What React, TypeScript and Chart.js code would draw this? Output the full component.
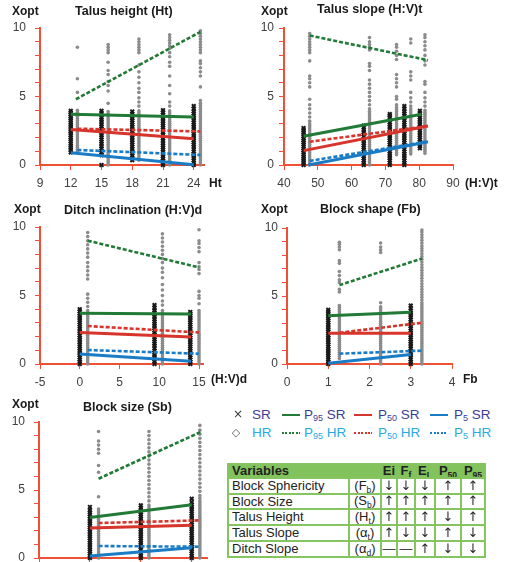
import React, { useEffect, useRef } from 'react';
import { Chart, registerables } from 'chart.js';

Chart.register(...registerables);

const AXIS = '#ef4f32';
const GREEN = '#217a36';
const RED = '#d7342b';
const BLUE = '#1b7cc6';
const BLACK = '#1a1a1a';
const GRAY = '#8b8b8b';
const TICK_COLOR = '#404040';
const FONT = '"Liberation Sans", Arial, sans-serif';
const GLYPH_FONT = '"DejaVu Sans", "Liberation Sans", sans-serif';

type XY = [number, number];

const Y_TICKS = [0, 1, 2, 3, 4, 5, 6, 7, 8, 9, 10];

// ---------------- Talus height (Ht) ----------------
const HT_X_TICKS = [9, 12, 15, 18, 21, 24];
const HT_SR_X = [12, 15, 18, 21, 24];
const HT_SR_12 = [0.92, 1.1, 1.25, 1.4, 1.55, 1.72, 1.86, 2.0, 2.18, 2.32, 2.47, 2.62, 2.78, 2.93, 3.08, 3.24, 3.38, 3.53, 3.68, 3.82, 3.95];
const HT_SR_15 = [0, 0.72, 0.9, 1.05, 1.22, 1.38, 1.55, 1.7, 1.86, 2.02, 2.18, 2.34, 2.5, 2.66, 2.82, 2.98, 3.14, 3.3, 3.46, 3.62, 3.78, 3.95];
const HT_SR_18 = [0.35, 0.5, 0.68, 0.85, 1.0, 1.18, 1.34, 1.5, 1.66, 1.82, 1.98, 2.14, 2.3, 2.46, 2.62, 2.78, 2.94, 3.1, 3.26, 3.42, 3.58, 3.74, 3.9];
const HT_SR_21 = [0, 0.15, 0.32, 0.48, 0.64, 0.8, 0.96, 1.12, 1.28, 1.44, 1.6, 1.76, 1.92, 2.08, 2.24, 2.4, 2.56, 2.72, 2.88, 3.04, 3.2, 3.36, 3.52, 3.68, 3.84, 4.0];
const HT_SR_24 = [0, 0.16, 0.33, 0.5, 0.66, 0.82, 0.98, 1.15, 1.32, 1.48, 1.64, 1.8, 1.96, 2.12, 2.28, 2.45, 2.62, 2.78, 2.94, 3.1, 3.27, 3.44, 3.6, 3.76, 3.92, 4.1, 4.3];
const HT_HR_X = [12.65, 15.65, 18.65, 21.65, 24.65];
const HT_HR_12 = [1.0, 1.15, 1.3, 1.45, 1.6, 1.75, 1.9, 2.05, 2.2, 2.35, 2.5, 2.65, 2.8, 2.95, 3.1, 3.25, 3.4, 3.55, 3.7, 3.85, 4.0, 5.3, 6.3, 8.6];
const HT_HR_15 = [0, 0.15, 0.3, 0.45, 0.6, 0.75, 0.9, 1.05, 1.2, 1.35, 1.5, 1.65, 1.8, 1.95, 2.1, 2.25, 2.4, 2.55, 2.7, 2.85, 3.0, 3.15, 3.3, 3.45, 3.6, 3.75, 3.9, 4.5, 5.4, 5.8, 6.1, 6.6, 6.9, 7.5, 8.2, 8.4, 8.6, 8.8];
const HT_HR_18 = [0.35, 0.5, 0.65, 0.8, 0.95, 1.1, 1.25, 1.4, 1.55, 1.7, 1.85, 2.0, 2.15, 2.3, 2.45, 2.6, 2.75, 2.9, 3.05, 3.2, 3.35, 3.5, 3.65, 3.8, 3.95, 4.3, 4.6, 4.9, 5.3, 5.6, 6.0, 6.4, 6.8, 7.3, 8.2, 8.4, 8.6, 8.8, 9.0, 9.2];
const HT_HR_21 = [0, 0.2, 0.35, 0.5, 0.65, 0.8, 0.95, 1.1, 1.25, 1.4, 1.55, 1.7, 1.85, 2.0, 2.15, 2.3, 2.45, 2.6, 2.75, 2.9, 3.05, 3.2, 3.35, 3.5, 3.65, 3.8, 3.95, 4.3, 4.6, 5.2, 5.8, 6.5, 7.2, 7.5, 7.9, 8.2, 8.5, 8.7, 8.9, 9.1, 9.3, 9.5];
const HT_HR_24 = [0, 0.15, 0.3, 0.45, 0.6, 0.75, 0.9, 1.05, 1.2, 1.35, 1.5, 1.65, 1.8, 1.95, 2.1, 2.25, 2.4, 2.55, 2.7, 2.85, 3.0, 3.15, 3.3, 3.45, 3.6, 3.75, 3.9, 4.05, 4.2, 4.35, 4.5, 4.7, 5.7, 6.5, 6.8, 7.1, 7.4, 7.6, 8.2, 8.4, 8.6, 8.8, 9.0, 9.2, 9.4, 9.6, 9.8];
const HT_P95_SR: XY[] = [[12, 3.7], [24, 3.5]];
const HT_P95_HR: XY[] = [[12.5, 4.8], [24.65, 9.72]];
const HT_P50_SR: XY[] = [[12, 2.6], [24, 1.92]];
const HT_P50_HR: XY[] = [[12.65, 2.65], [24.65, 2.45]];
const HT_P5_SR: XY[] = [[12, 0.9], [24, 0.02]];
const HT_P5_HR: XY[] = [[12.65, 1.1], [24.65, 0.73]];

// ---------------- Talus slope (H:V)t ----------------
const TS_X_TICKS = [40, 50, 60, 70, 80, 90];
const TS_SR_X = [45.8, 63.6, 71.3, 75.6, 80.2];
const TS_SR_1 = [0, 0.15, 0.3, 0.45, 0.6, 0.75, 0.9, 1.05, 1.2, 1.35, 1.5, 1.65, 1.8, 1.95, 2.1, 2.25, 2.4, 2.55, 2.7];
const TS_SR_2 = [0, 0.16, 0.32, 0.48, 0.64, 0.8, 0.96, 1.12, 1.28, 1.44, 1.6, 1.76, 1.92, 2.08, 2.24, 2.4, 2.56, 2.72, 2.88];
const TS_SR_3 = [0, 0.17, 0.34, 0.5, 0.66, 0.82, 0.98, 1.15, 1.32, 1.48, 1.64, 1.8, 1.96, 2.12, 2.28, 2.45, 2.62, 2.78, 2.94, 3.1, 3.27, 3.44, 3.6, 3.72];
const TS_SR_4 = [0, 0.16, 0.33, 0.5, 0.66, 0.82, 0.98, 1.15, 1.32, 1.48, 1.64, 1.8, 1.96, 2.12, 2.28, 2.45, 2.62, 2.78, 2.94, 3.1, 3.27, 3.44, 3.6, 3.76, 3.92, 4.1, 4.3];
const TS_SR_5 = [1.22, 1.38, 1.54, 1.7, 1.86, 2.02, 2.18, 2.34, 2.5, 2.66, 2.82, 2.98, 3.14, 3.3, 3.46, 3.62, 3.78, 3.95];
const TS_HR_X = [47.6, 65.3, 73.3, 77.5, 81.7];
const TS_HR_1 = [0, 0.15, 0.3, 0.45, 0.6, 0.75, 0.9, 1.05, 1.2, 1.35, 1.5, 1.65, 1.8, 1.95, 2.1, 2.25, 2.4, 2.55, 2.7, 2.85, 3.0, 3.2, 3.5, 3.8, 4.1, 4.4, 4.8, 5.7, 6.0, 6.3, 6.5, 7.6, 8.2, 8.4, 8.6, 8.8, 9.0, 9.2, 9.4, 9.6];
const TS_HR_2 = [0, 0.15, 0.3, 0.45, 0.6, 0.75, 0.9, 1.05, 1.2, 1.35, 1.5, 1.65, 1.8, 1.95, 2.1, 2.25, 2.4, 2.55, 2.7, 2.85, 3.0, 3.15, 3.3, 3.45, 3.6, 3.75, 3.9, 4.1, 4.4, 4.7, 5.0, 5.3, 5.6, 5.9, 6.2, 6.9, 7.2, 7.4, 8.4, 8.6, 8.8, 9.0, 9.3];
const TS_HR_3 = [0.75, 0.9, 1.05, 1.2, 1.35, 1.5, 1.65, 1.8, 1.95, 2.1, 2.25, 2.4, 2.55, 2.7, 2.85, 3.0, 3.15, 3.3, 3.45, 3.6, 3.75, 3.9, 4.05, 4.2, 4.4, 4.8, 5.0, 5.7, 6.0, 6.3, 6.6, 7.7, 8.0, 8.3, 8.6, 8.8];
const TS_HR_4 = [0.8, 0.95, 1.1, 1.25, 1.4, 1.55, 1.7, 1.85, 2.0, 2.15, 2.3, 2.45, 2.6, 2.75, 2.9, 3.05, 3.2, 3.35, 3.5, 3.65, 3.8, 3.95, 4.1, 4.3, 4.6, 4.9, 5.3, 6.2, 6.5, 6.8, 8.9, 9.2];
const TS_HR_5 = [0.85, 1.0, 1.15, 1.3, 1.45, 1.6, 1.75, 1.9, 2.05, 2.2, 2.35, 2.5, 2.65, 2.8, 2.95, 3.1, 3.25, 3.4, 3.55, 3.7, 3.85, 4.0, 4.3, 4.6, 4.9, 5.3, 5.9, 6.1, 7.3, 7.6, 8.0, 8.4, 8.7, 9.0, 9.3, 9.5];
const TS_P95_SR: XY[] = [[45.8, 2.1], [80.7, 3.7]];
const TS_P95_HR: XY[] = [[47.6, 9.45], [82.6, 7.65]];
const TS_P50_SR: XY[] = [[45.8, 1.05], [82.6, 2.85]];
const TS_P50_HR: XY[] = [[47.6, 1.7], [82.6, 2.85]];
const TS_P5_SR: XY[] = [[47.2, 0], [82.6, 1.7]];
const TS_P5_HR: XY[] = [[47.6, 0.3], [82.6, 1.72]];

// ---------------- Ditch inclination (H:V)d ----------------
const DI_X_TICKS = [-5, 0, 5, 10, 15];
const DI_SR_X = [0, 9.4, 13.9];
const DI_SR_1 = [0, 0.16, 0.32, 0.48, 0.64, 0.8, 0.96, 1.12, 1.28, 1.44, 1.6, 1.76, 1.92, 2.08, 2.24, 2.4, 2.56, 2.72, 2.88, 3.04, 3.2, 3.36, 3.52, 3.68, 3.84, 4.0];
const DI_SR_2 = [0, 0.16, 0.33, 0.5, 0.66, 0.82, 0.98, 1.15, 1.32, 1.48, 1.64, 1.8, 1.96, 2.12, 2.28, 2.45, 2.62, 2.78, 2.94, 3.1, 3.27, 3.44, 3.6, 3.76, 3.92, 4.1, 4.3];
const DI_SR_3 = [0, 0.16, 0.32, 0.48, 0.64, 0.8, 0.96, 1.12, 1.28, 1.44, 1.6, 1.76, 1.92, 2.08, 2.24, 2.4, 2.56, 2.72, 2.88, 3.04, 3.2, 3.36, 3.52, 3.68, 3.8];
const DI_HR_X = [1, 10.4, 15];
const DI_HR_1 = [0, 0.15, 0.3, 0.45, 0.6, 0.75, 0.9, 1.05, 1.2, 1.35, 1.5, 1.65, 1.8, 1.95, 2.1, 2.25, 2.4, 2.55, 2.7, 2.85, 3.0, 3.15, 3.3, 3.45, 3.6, 3.75, 3.9, 4.2, 4.5, 4.8, 5.1, 6.2, 6.5, 6.8, 7.1, 7.4, 7.8, 8.1, 8.4, 8.7, 9.0, 9.3, 9.6];
const DI_HR_2 = [0, 0.15, 0.3, 0.45, 0.6, 0.75, 0.9, 1.05, 1.2, 1.35, 1.5, 1.65, 1.8, 1.95, 2.1, 2.25, 2.4, 2.55, 2.7, 2.85, 3.0, 3.15, 3.3, 3.45, 3.6, 3.75, 3.9, 4.3, 4.6, 5.0, 5.4, 5.8, 6.3, 6.7, 7.0, 7.4, 7.7, 8.0, 8.3, 8.6, 8.9, 9.2, 9.5];
const DI_HR_3 = [0, 0.15, 0.3, 0.45, 0.6, 0.75, 0.9, 1.05, 1.2, 1.35, 1.5, 1.65, 1.8, 1.95, 2.1, 2.25, 2.4, 2.55, 2.7, 2.85, 3.0, 3.15, 3.3, 3.45, 3.6, 3.75, 3.9, 4.4, 4.8, 5.0, 5.3, 6.6, 6.9, 7.1, 7.4, 8.2, 8.5, 8.8, 9.0, 9.8];
const DI_P95_SR: XY[] = [[0, 3.7], [14, 3.65]];
const DI_P95_HR: XY[] = [[1, 9.0], [15, 7.05]];
const DI_P50_SR: XY[] = [[0, 2.3], [14, 1.97]];
const DI_P50_HR: XY[] = [[1, 2.77], [15, 2.3]];
const DI_P5_SR: XY[] = [[0, 0.73], [14, 0.2]];
const DI_P5_HR: XY[] = [[1, 1.02], [15, 0.75]];

// ---------------- Block shape (Fb) ----------------
const BS_X_TICKS = [0, 1, 2, 3, 4];
const BS_SR_X = [1, 3];
const BS_SR_1 = [0, 0.16, 0.32, 0.48, 0.64, 0.8, 0.96, 1.12, 1.28, 1.44, 1.6, 1.76, 1.92, 2.08, 2.24, 2.4, 2.56, 2.72, 2.88, 3.04, 3.2, 3.36, 3.52, 3.68, 3.84, 3.98];
const BS_SR_2 = [0, 0.16, 0.33, 0.5, 0.66, 0.82, 0.98, 1.15, 1.32, 1.48, 1.64, 1.8, 1.96, 2.12, 2.28, 2.45, 2.62, 2.78, 2.94, 3.1, 3.27, 3.44, 3.6, 3.76, 3.92, 4.1, 4.3];
const BS_HR_X = [1.27, 2.27, 3.27];
const BS_HR_1 = [0.4, 0.55, 0.7, 0.85, 1.0, 1.15, 1.3, 1.45, 1.6, 1.75, 1.9, 2.05, 2.2, 2.35, 2.5, 2.65, 2.8, 2.95, 3.1, 3.25, 3.4, 3.55, 3.7, 3.85, 4.0, 4.15, 4.3, 5.3, 5.5, 6.0, 6.2, 6.5, 6.8, 7.4, 7.6, 8.4, 8.6, 8.8, 8.95];
const BS_HR_2 = [0, 0.15, 0.3, 0.45, 0.6, 0.75, 0.9, 1.05, 1.2, 1.35, 1.5, 1.65, 1.8, 1.95, 2.1, 2.25, 2.4, 2.55, 2.7, 2.85, 3.0, 3.15, 3.3, 3.45, 3.6, 3.75, 3.9, 4.05, 4.2, 4.5, 8.2, 8.4, 8.6, 8.9];
const BS_HR_3 = [0, 0.15, 0.3, 0.45, 0.6, 0.75, 0.9, 1.05, 1.2, 1.35, 1.5, 1.65, 1.8, 1.95, 2.1, 2.25, 2.4, 2.55, 2.7, 2.85, 3.0, 3.15, 3.3, 3.45, 3.6, 3.75, 3.9, 4.05, 4.2, 4.35, 4.5, 4.7, 4.9, 5.1, 5.3, 5.5, 5.7, 5.9, 6.1, 6.3, 6.5, 6.7, 6.9, 7.1, 7.3, 7.5, 7.7, 7.9, 8.1, 8.3, 8.5, 8.7, 8.9, 9.1, 9.3, 9.5, 9.7, 9.85];
const BS_P95_SR: XY[] = [[1, 3.55], [3, 3.8]];
const BS_P95_HR: XY[] = [[1.27, 5.8], [3.27, 7.75]];
const BS_P50_SR: XY[] = [[1, 2.27], [3, 2.27]];
const BS_P50_HR: XY[] = [[1.27, 2.3], [3.27, 3.03]];
const BS_P5_SR: XY[] = [[1, 0.05], [3, 0.7]];
const BS_P5_HR: XY[] = [[1.27, 0.76], [3.27, 0.98]];

// ---------------- Block size (Sb) ----------------
const SB_X_TICKS = [0, 1, 2, 3];
const SB_SR_X = [1, 2, 3];
const SB_SR_1 = [0, 0.16, 0.32, 0.48, 0.64, 0.8, 0.96, 1.12, 1.28, 1.44, 1.6, 1.76, 1.92, 2.08, 2.24, 2.4, 2.56, 2.72, 2.88, 3.04, 3.2, 3.36, 3.52, 3.75];
const SB_SR_2 = [0, 0.16, 0.32, 0.48, 0.64, 0.8, 0.96, 1.12, 1.28, 1.44, 1.6, 1.76, 1.92, 2.08, 2.24, 2.4, 2.56, 2.72, 2.88, 3.04, 3.2, 3.36, 3.52, 3.68, 3.87];
const SB_SR_3 = [0, 0.16, 0.33, 0.5, 0.66, 0.82, 0.98, 1.15, 1.32, 1.48, 1.64, 1.8, 1.96, 2.12, 2.28, 2.45, 2.62, 2.78, 2.94, 3.1, 3.27, 3.44, 3.6, 3.76, 3.92, 4.1, 4.36];
const SB_HR_X = [1.17, 2.16, 3.16];
const SB_HR_1 = [0, 0.15, 0.3, 0.45, 0.6, 0.75, 0.9, 1.05, 1.2, 1.35, 1.5, 1.65, 1.8, 1.95, 2.1, 2.25, 2.4, 2.55, 2.7, 2.85, 3.0, 3.15, 3.3, 3.45, 3.6, 4.5, 6.3, 6.8, 7.7, 8.0, 8.3, 8.6, 9.3];
const SB_HR_2 = [0, 0.15, 0.3, 0.45, 0.6, 0.75, 0.9, 1.05, 1.2, 1.35, 1.5, 1.65, 1.8, 1.95, 2.1, 2.25, 2.4, 2.55, 2.7, 2.85, 3.0, 3.15, 3.3, 3.45, 3.6, 3.75, 3.9, 4.2, 4.5, 4.8, 5.1, 5.4, 5.7, 6.0, 6.3, 6.6, 6.9, 7.2, 7.5, 7.8, 8.1, 8.4, 8.7, 9.0, 9.3];
const SB_HR_3 = [0, 0.15, 0.3, 0.45, 0.6, 0.75, 0.9, 1.05, 1.2, 1.35, 1.5, 1.65, 1.8, 1.95, 2.1, 2.25, 2.4, 2.55, 2.7, 2.85, 3.0, 3.15, 3.3, 3.45, 3.6, 3.75, 3.9, 4.05, 4.2, 4.4, 4.6, 4.9, 5.2, 5.5, 5.8, 6.1, 6.4, 6.7, 7.0, 7.3, 7.6, 7.9, 8.2, 8.5, 8.8, 9.1, 9.4, 9.75];
const SB_P95_SR: XY[] = [[1, 2.97], [3, 3.92]];
const SB_P95_HR: XY[] = [[1.17, 5.83], [3.17, 9.26]];
const SB_P50_SR: XY[] = [[1, 2.2], [3, 2.4]];
const SB_P50_HR: XY[] = [[1.17, 2.57], [3.17, 2.77]];
const SB_P5_SR: XY[] = [[1, 0.15], [3, 0.76]];
const SB_P5_HR: XY[] = [[1.17, 0.88], [3.17, 0.83]];

// ---------------- Table ----------------
const TABLE_HEAD = [['Ei', ''], ['F', 'f'], ['E', 'L'], ['P', '50'], ['P', '95']];
const TABLE_VARS = ['Block Sphericity', 'Block Size', 'Talus Height', 'Talus Slope', 'Ditch Slope'];
const TABLE_SYMS = [['F', 'b'], ['S', 'b'], ['H', 't'], ['α', 't'], ['α', 'd']];
const TABLE_ARROWS = [
  ['↓', '↓', '↓', '↑', '↑'],
  ['↑', '↑', '↑', '↑', '↑'],
  ['↑', '↑', '↑', '↓', '↑'],
  ['↑', '↓', '↓', '↑', '↓'],
  ['—', '—', '↑', '↓', '↓'],
];

interface TextItem { text: string; x: number; y: number; size: number; }
interface LineSet { p95sr: XY[]; p95hr: XY[]; p50sr: XY[]; p50hr: XY[]; p5sr: XY[]; p5hr: XY[]; }
interface PanelCfg {
  left: number; top: number; w: number; h: number;
  area: { l: number; r: number; t: number; b: number };
  xMin: number; xMax: number; xTicks: number[]; showX: boolean; yPad: number;
  srX: number[]; srCols: number[][]; hrX: number[]; hrCols: number[][];
  lines: LineSet; texts: TextItem[];
}

const PANELS: PanelCfg[] = [
  {
    left: 0, top: 0, w: 254, h: 195, area: { l: 40, r: 204, t: 28, b: 165 },
    xMin: 9, xMax: 25, xTicks: HT_X_TICKS, showX: true, yPad: 9,
    srX: HT_SR_X, srCols: [HT_SR_12, HT_SR_15, HT_SR_18, HT_SR_21, HT_SR_24],
    hrX: HT_HR_X, hrCols: [HT_HR_12, HT_HR_15, HT_HR_18, HT_HR_21, HT_HR_24],
    lines: { p95sr: HT_P95_SR, p95hr: HT_P95_HR, p50sr: HT_P50_SR, p50hr: HT_P50_HR, p5sr: HT_P5_SR, p5hr: HT_P5_HR },
    texts: [
      { text: 'Xopt', x: 12, y: 12, size: 12 },
      { text: 'Talus height (Ht)', x: 75, y: 12, size: 12.5 },
      { text: 'Ht', x: 209, y: 184, size: 12 },
    ],
  },
  {
    left: 254, top: 0, w: 254, h: 195, area: { l: 30, r: 199, t: 28, b: 165 },
    xMin: 40, xMax: 90, xTicks: TS_X_TICKS, showX: true, yPad: 5,
    srX: TS_SR_X, srCols: [TS_SR_1, TS_SR_2, TS_SR_3, TS_SR_4, TS_SR_5],
    hrX: TS_HR_X, hrCols: [TS_HR_1, TS_HR_2, TS_HR_3, TS_HR_4, TS_HR_5],
    lines: { p95sr: TS_P95_SR, p95hr: TS_P95_HR, p50sr: TS_P50_SR, p50hr: TS_P50_HR, p5sr: TS_P5_SR, p5hr: TS_P5_HR },
    texts: [
      { text: 'Xopt', x: 7, y: 12, size: 12 },
      { text: 'Talus slope (H:V)t', x: 63, y: 10, size: 12.5 },
      { text: '(H:V)t', x: 211, y: 184, size: 12 },
    ],
  },
  {
    left: 0, top: 195, w: 254, h: 195, area: { l: 40, r: 203, t: 32, b: 169 },
    xMin: -5, xMax: 15.5, xTicks: DI_X_TICKS, showX: true, yPad: 9,
    srX: DI_SR_X, srCols: [DI_SR_1, DI_SR_2, DI_SR_3],
    hrX: DI_HR_X, hrCols: [DI_HR_1, DI_HR_2, DI_HR_3],
    lines: { p95sr: DI_P95_SR, p95hr: DI_P95_HR, p50sr: DI_P50_SR, p50hr: DI_P50_HR, p5sr: DI_P5_SR, p5hr: DI_P5_HR },
    texts: [
      { text: 'Xopt', x: 14, y: 15, size: 12 },
      { text: 'Ditch inclination (H:V)d', x: 64, y: 16, size: 12.5 },
      { text: '(H:V)d', x: 211, y: 185, size: 12 },
    ],
  },
  {
    left: 254, top: 195, w: 254, h: 195, area: { l: 33, r: 198, t: 33, b: 169 },
    xMin: 0, xMax: 4, xTicks: BS_X_TICKS, showX: true, yPad: 4,
    srX: BS_SR_X, srCols: [BS_SR_1, BS_SR_2],
    hrX: BS_HR_X, hrCols: [BS_HR_1, BS_HR_2, BS_HR_3],
    lines: { p95sr: BS_P95_SR, p95hr: BS_P95_HR, p50sr: BS_P50_SR, p50hr: BS_P50_HR, p5sr: BS_P5_SR, p5hr: BS_P5_HR },
    texts: [
      { text: 'Xopt', x: 7, y: 15, size: 12 },
      { text: 'Block shape (Fb)', x: 66, y: 15, size: 12.5 },
      { text: 'Fb', x: 209, y: 185, size: 12 },
    ],
  },
  {
    left: 0, top: 390, w: 225, h: 195, area: { l: 39, r: 207, t: 32, b: 168 },
    xMin: 0, xMax: 3.3, xTicks: SB_X_TICKS, showX: false, yPad: 9,
    srX: SB_SR_X, srCols: [SB_SR_1, SB_SR_2, SB_SR_3],
    hrX: SB_HR_X, hrCols: [SB_HR_1, SB_HR_2, SB_HR_3],
    lines: { p95sr: SB_P95_SR, p95hr: SB_P95_HR, p50sr: SB_P50_SR, p50hr: SB_P50_HR, p5sr: SB_P5_SR, p5hr: SB_P5_HR },
    texts: [
      { text: 'Xopt', x: 12, y: 15, size: 12 },
      { text: 'Block size (Sb)', x: 83, y: 18, size: 12.5 },
    ],
  },
];

const panelText = {
  id: 'panelText',
  afterDraw(chart: any, _args: any, opts: any) {
    const ctx = chart.ctx;
    ctx.save();
    ctx.fillStyle = '#1a1a1a';
    ctx.textBaseline = 'middle';
    ctx.textAlign = 'left';
    for (const it of (opts.items || []) as TextItem[]) {
      ctx.font = `bold ${it.size}px ${FONT}`;
      ctx.fillText(it.text, it.x, it.y);
    }
    ctx.restore();
  },
};

function Panel({ cfg }: { cfg: PanelCfg }) {
  const ref = useRef<HTMLCanvasElement>(null);
  useEffect(() => {
    const c = cfg;
    const datasets: any[] = [];
    const defs: [XY[], string, boolean][] = [
      [c.lines.p95sr, GREEN, false],
      [c.lines.p95hr, GREEN, true],
      [c.lines.p50sr, RED, false],
      [c.lines.p50hr, RED, true],
      [c.lines.p5sr, BLUE, false],
      [c.lines.p5hr, BLUE, true],
    ];
    defs.forEach(([pts, color, dashed]) => {
      datasets.push({
        data: pts.map(([x, y]) => ({ x, y })),
        showLine: true,
        borderColor: color,
        borderWidth: dashed ? 2.6 : 3,
        borderDash: dashed ? [4, 2] : [],
        pointRadius: 0,
        fill: false,
        order: 0,
        clip: false,
      });
    });
    c.srCols.forEach((ys, i) => {
      datasets.push({
        data: ys.map((y) => ({ x: c.srX[i], y })),
        showLine: false,
        pointStyle: 'crossRot',
        pointRadius: 2.6,
        pointBorderColor: BLACK,
        pointBackgroundColor: BLACK,
        pointBorderWidth: 2,
        order: 1,
        clip: false,
      });
    });
    c.hrCols.forEach((ys, i) => {
      datasets.push({
        data: ys.map((y) => ({ x: c.hrX[i], y })),
        showLine: false,
        pointStyle: 'circle',
        pointRadius: 1.8,
        pointBorderColor: GRAY,
        pointBackgroundColor: GRAY,
        pointBorderWidth: 0,
        order: 2,
        clip: false,
      });
    });
    const chart = new Chart(ref.current as HTMLCanvasElement, {
      type: 'scatter',
      data: { datasets },
      plugins: [panelText as any],
      options: {
        responsive: false,
        animation: false,
        events: [],
        layout: { padding: { top: c.area.t, right: c.w - c.area.r, bottom: 0, left: 0 } },
        plugins: {
          legend: { display: false },
          tooltip: { enabled: false },
          panelText: { items: c.texts },
        } as any,
        scales: {
          x: {
            type: 'linear',
            min: c.xMin,
            max: c.xMax,
            afterBuildTicks: (s: any) => { s.ticks = c.xTicks.map((v) => ({ value: v })); },
            afterFit: (s: any) => { s.height = c.h - c.area.b; },
            grid: { drawOnChartArea: false, drawTicks: true, tickLength: 5, color: AXIS, lineWidth: 1 },
            border: { display: true, color: AXIS, width: 2 },
            ticks: {
              display: c.showX,
              color: TICK_COLOR,
              font: { family: FONT, size: 12 },
              padding: 6,
              autoSkip: false,
              maxRotation: 0,
              callback: (v: any) => String(v),
            },
          },
          y: {
            type: 'linear',
            min: 0,
            max: 10,
            afterBuildTicks: (s: any) => { s.ticks = Y_TICKS.map((v) => ({ value: v })); },
            afterFit: (s: any) => { s.width = c.area.l; },
            grid: { drawOnChartArea: false, drawTicks: true, tickLength: 5, color: AXIS, lineWidth: 1 },
            border: { display: true, color: AXIS, width: 2 },
            ticks: {
              color: TICK_COLOR,
              font: { family: FONT, size: 12 },
              padding: c.yPad,
              autoSkip: false,
              callback: (v: any) => (Number(v) % 5 === 0 ? String(v) : ''),
            },
          },
        } as any,
      },
    });
    return () => chart.destroy();
  }, [cfg]);
  return (
    <canvas
      ref={ref}
      width={cfg.w}
      height={cfg.h}
      style={{ position: 'absolute', left: cfg.left, top: cfg.top, width: cfg.w, height: cfg.h }}
    />
  );
}

const SR_TEXT = '#3c3c96';
const HR_TEXT = '#29a9e1';

function Sub({ children }: { children: React.ReactNode }) {
  return <span style={{ fontSize: 9, position: 'relative', top: 2 }}>{children}</span>;
}

const LEGEND_LINES = [
  { color: GREEN, left: 282, sub: '95', textLeft: 304 },
  { color: RED, left: 354, sub: '50', textLeft: 378 },
  { color: BLUE, left: 430, sub: '5', textLeft: 454 },
];
const LEGEND_ROWS = [
  { y: 415, label: 'SR', color: SR_TEXT, dashed: false, marker: '×' },
  { y: 433, label: 'HR', color: HR_TEXT, dashed: true, marker: '◇' },
];

function Legend() {
  const txt: React.CSSProperties = { position: 'absolute', fontSize: 13.5, lineHeight: '16px', whiteSpace: 'nowrap', fontFamily: FONT };
  return (
    <>
      {LEGEND_ROWS.map((r) => (
        <React.Fragment key={r.label}>
          <span style={{ ...txt, left: 252, top: r.y - 8, color: r.color }}>{r.label}</span>
          {LEGEND_LINES.map((l) => (
            <React.Fragment key={l.sub}>
              <div
                style={{
                  position: 'absolute',
                  left: l.left,
                  top: r.y - 1,
                  width: 18,
                  height: 2,
                  background: r.dashed
                    ? `repeating-linear-gradient(to right, ${l.color} 0px, ${l.color} 2px, transparent 2px, transparent 3.5px)`
                    : l.color,
                }}
              />
              <span style={{ ...txt, left: l.textLeft, top: r.y - 8, color: r.color }}>
                P<Sub>{l.sub}</Sub> {r.label}
              </span>
            </React.Fragment>
          ))}
        </React.Fragment>
      ))}
    </>
  );
}

const T_COLS = [228, 349, 381, 397, 415, 435, 461, 485];
const T_ROWS = [464, 478, 494, 509, 525, 541, 557];
const T_BORDER = '#84c560';
const T_HEAD_BG = '#82c35d';

function Table() {
  const L = T_COLS[0];
  const T = T_ROWS[0];
  const W = T_COLS[T_COLS.length - 1] - L;
  const H = T_ROWS[T_ROWS.length - 1] - T;
  const cell = (c0: number, c1: number, r: number, content: React.ReactNode, align: 'left' | 'center', bold = false) => (
    <div
      key={`${c0}-${r}`}
      style={{
        position: 'absolute',
        left: T_COLS[c0] - L,
        top: T_ROWS[r] - T,
        width: T_COLS[c1] - T_COLS[c0],
        height: T_ROWS[r + 1] - T_ROWS[r],
        display: 'flex',
        alignItems: 'center',
        justifyContent: align === 'left' ? 'flex-start' : 'center',
        paddingLeft: align === 'left' ? 4 : 0,
        boxSizing: 'border-box',
        fontWeight: bold ? 'bold' : 'normal',
        fontSize: 13,
        lineHeight: '14px',
        color: '#222',
        whiteSpace: 'nowrap',
      }}
    >
      {content}
    </div>
  );
  const sub = (s: string) => <span style={{ fontSize: 8.5, position: 'relative', top: 3 }}>{s}</span>;
  const cells: React.ReactNode[] = [];
  cells.push(cell(0, 2, 0, 'Variables', 'left', true));
  TABLE_HEAD.forEach(([a, b], i) => cells.push(cell(i + 2, i + 3, 0, <span>{a}{b ? sub(b) : null}</span>, 'center', true)));
  TABLE_VARS.forEach((v, r) => {
    cells.push(cell(0, 1, r + 1, v, 'left'));
    cells.push(cell(1, 2, r + 1, <span>({TABLE_SYMS[r][0]}{sub(TABLE_SYMS[r][1])})</span>, 'center'));
  });
  const lines: React.ReactNode[] = [];
  T_ROWS.forEach((y, i) =>
    lines.push(<div key={`h${i}`} style={{ position: 'absolute', left: -1, top: y - T - 1, width: W + 2, height: 2, background: T_BORDER }} />)
  );
  T_COLS.forEach((x, i) => {
    const top = i === 0 || i === T_COLS.length - 1 ? 0 : T_ROWS[1] - T;
    lines.push(<div key={`v${i}`} style={{ position: 'absolute', left: x - L - 1, top: top - 1, width: 2, height: H - top + 2, background: T_BORDER }} />);
  });
  return (
    <div style={{ position: 'absolute', left: L, top: T, width: W, height: H, background: '#fff', fontFamily: FONT }}>
      <div style={{ position: 'absolute', left: 0, top: 0, width: W, height: T_ROWS[1] - T, background: T_HEAD_BG }} />
      {cells}
      {lines}
    </div>
  );
}

// Thin symbol glyphs (legend markers, table arrows) drawn as canvas text for clean grayscale rendering
function GlyphLayer() {
  const ref = useRef<HTMLCanvasElement>(null);
  useEffect(() => {
    const cv = ref.current;
    if (!cv) return;
    const ctx = cv.getContext('2d');
    if (!ctx) return;
    ctx.clearRect(0, 0, cv.width, cv.height);
    ctx.textAlign = 'center';
    ctx.textBaseline = 'middle';
    // legend markers
    ctx.fillStyle = '#333';
    ctx.font = `12px ${GLYPH_FONT}`;
    ctx.fillText(LEGEND_ROWS[0].marker, 238, LEGEND_ROWS[0].y);
    ctx.fillStyle = '#555';
    ctx.font = `11px ${GLYPH_FONT}`;
    ctx.fillText(LEGEND_ROWS[1].marker, 236, LEGEND_ROWS[1].y);
    // table arrows
    ctx.fillStyle = '#2a2a2a';
    TABLE_ARROWS.forEach((row, r) => {
      const cy = (T_ROWS[r + 1] + T_ROWS[r + 2]) / 2 + 0.5;
      row.forEach((a, i) => {
        const cx = (T_COLS[i + 2] + T_COLS[i + 3]) / 2;
        ctx.font = a === '—' ? `13px ${FONT}` : `13px ${GLYPH_FONT}`;
        ctx.fillText(a, cx, cy);
      });
    });
  }, []);
  return (
    <canvas
      ref={ref}
      width={508}
      height={562}
      style={{ position: 'absolute', left: 0, top: 0, width: 508, height: 562, pointerEvents: 'none' }}
    />
  );
}

export default function App() {
  return (
    <div
      style={{
        position: 'absolute',
        left: 0,
        top: 0,
        width: 508,
        height: 562,
        overflow: 'hidden',
        background: '#fff',
        fontFamily: FONT,
      }}
    >
      {PANELS.map((p, i) => (
        <Panel key={i} cfg={p} />
      ))}
      <Legend />
      <Table />
      <GlyphLayer />
    </div>
  );
}
